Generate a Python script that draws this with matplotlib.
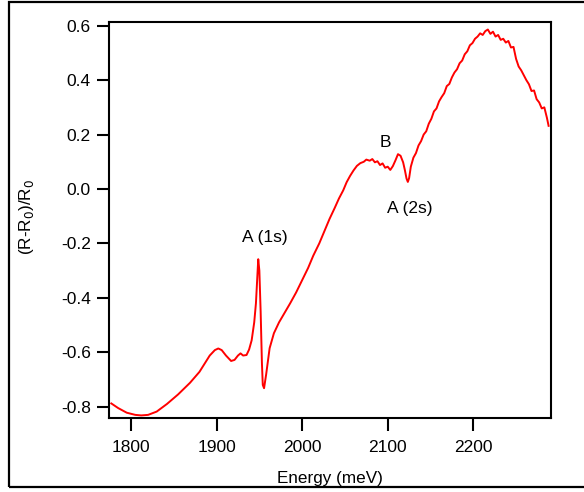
import matplotlib.pyplot as plt
from matplotlib.patches import Rectangle

plt.rcParams['font.family'] = ['Liberation Sans', 'DejaVu Sans']

# energia (meV) e sinal (R-R0)/R0
energia = [
    1777, 1785, 1795, 1805, 1812, 1820, 1830, 1842, 1855, 1869,
    1880, 1892, 1898, 1902, 1906, 1911, 1917, 1921, 1925, 1928,
    1931, 1935, 1938, 1941, 1944, 1946, 1947.5, 1948.7, 1950, 1951.5,
    1953, 1954, 1955.5, 1958, 1962, 1967, 1973, 1980, 1986, 1993,
    2000, 2007, 2013, 2020, 2026, 2032, 2038, 2043, 2048, 2052,
    2056, 2060, 2064, 2068, 2072, 2075, 2079, 2082, 2085, 2088,
    2091, 2094, 2097, 2100, 2103, 2106, 2109, 2112, 2115, 2118,
    2120, 2122, 2123.5, 2125, 2127, 2130, 2133, 2136, 2139, 2142,
    2145, 2148, 2151, 2154, 2157, 2160, 2163, 2166, 2169, 2172,
    2175, 2178, 2181, 2184, 2187, 2190, 2193, 2196, 2199, 2202,
    2205, 2208, 2211, 2214, 2217, 2220, 2223, 2226, 2229, 2232,
    2235, 2238, 2241, 2244, 2247, 2250, 2253, 2256, 2259, 2262,
    2265, 2268, 2271, 2274, 2277, 2280, 2283, 2286, 2288,
]
sinal = [
    -0.788, -0.805, -0.822, -0.830, -0.832, -0.830, -0.818, -0.790, -0.755, -0.712,
    -0.672, -0.612, -0.592, -0.586, -0.592, -0.612, -0.632, -0.628, -0.612, -0.604,
    -0.612, -0.610, -0.590, -0.556, -0.490, -0.420, -0.330, -0.258, -0.300, -0.450,
    -0.640, -0.720, -0.732, -0.680, -0.585, -0.530, -0.490, -0.452, -0.420, -0.380,
    -0.335, -0.290, -0.245, -0.200, -0.155, -0.110, -0.070, -0.035, -0.005, 0.025,
    0.048, 0.068, 0.085, 0.095, 0.100, 0.108, 0.104, 0.110, 0.098, 0.102,
    0.088, 0.094, 0.078, 0.082, 0.070, 0.084, 0.105, 0.128, 0.122, 0.098,
    0.070, 0.038, 0.026, 0.040, 0.082, 0.115, 0.132, 0.160, 0.176, 0.200,
    0.212, 0.240, 0.258, 0.285, 0.296, 0.322, 0.338, 0.352, 0.378, 0.386,
    0.410, 0.428, 0.440, 0.462, 0.472, 0.495, 0.506, 0.528, 0.536, 0.552,
    0.560, 0.572, 0.566, 0.580, 0.586, 0.570, 0.578, 0.560, 0.566, 0.548,
    0.552, 0.538, 0.544, 0.520, 0.522, 0.478, 0.450, 0.436, 0.418, 0.400,
    0.385, 0.360, 0.362, 0.330, 0.318, 0.296, 0.300, 0.262, 0.232,
]

rotulos = [("A (1s)", 1956.5, -0.177), ("B", 2097.5, 0.17), ("A (2s)", 2126, -0.07)]

fig = plt.figure(figsize=(5.84, 4.92), dpi=100)
ax = fig.add_axes([109 / 584, 1 - 418 / 492, 442 / 584, 396 / 492])

# moldura externa estilo Igor
fig.patches.append(Rectangle((9 / 584, 1 - 487 / 492), 1.2, 485 / 492,
                             transform=fig.transFigure, fill=False,
                             edgecolor="black", linewidth=1.6))

ax.plot(energia, sinal, color="#ff0000", linewidth=1.4)

for texto, x, y in rotulos:
    ax.text(x, y, texto, fontsize=12.5, ha="center", va="center")

ax.set_xlim(1774.3, 2290.8)
ax.set_ylim(-0.8415, 0.6136)
ax.set_xticks([1800, 1900, 2000, 2100, 2200])
ax.set_yticks([-0.8, -0.6, -0.4, -0.2, 0.0, 0.2, 0.4, 0.6])
ax.yaxis.set_major_formatter(plt.FuncFormatter(lambda v, _: f"{v:.1f}"))

for s in ax.spines.values():
    s.set_linewidth(1.5)
ax.tick_params(direction="out", length=9, width=1.5, labelsize=12.5)
ax.tick_params(axis="x", pad=7)
ax.tick_params(axis="y", pad=4)

fig.text(330 / 584, 1 - 478 / 492, "Energy (meV)", fontsize=12.3,
         ha="center", va="center")
fig.text(26 / 584, 1 - 217 / 492, "(R-R$_0$)/R$_0$", fontsize=12.3,
         ha="center", va="center", rotation=90)

fig.savefig("out.png", dpi=100)
